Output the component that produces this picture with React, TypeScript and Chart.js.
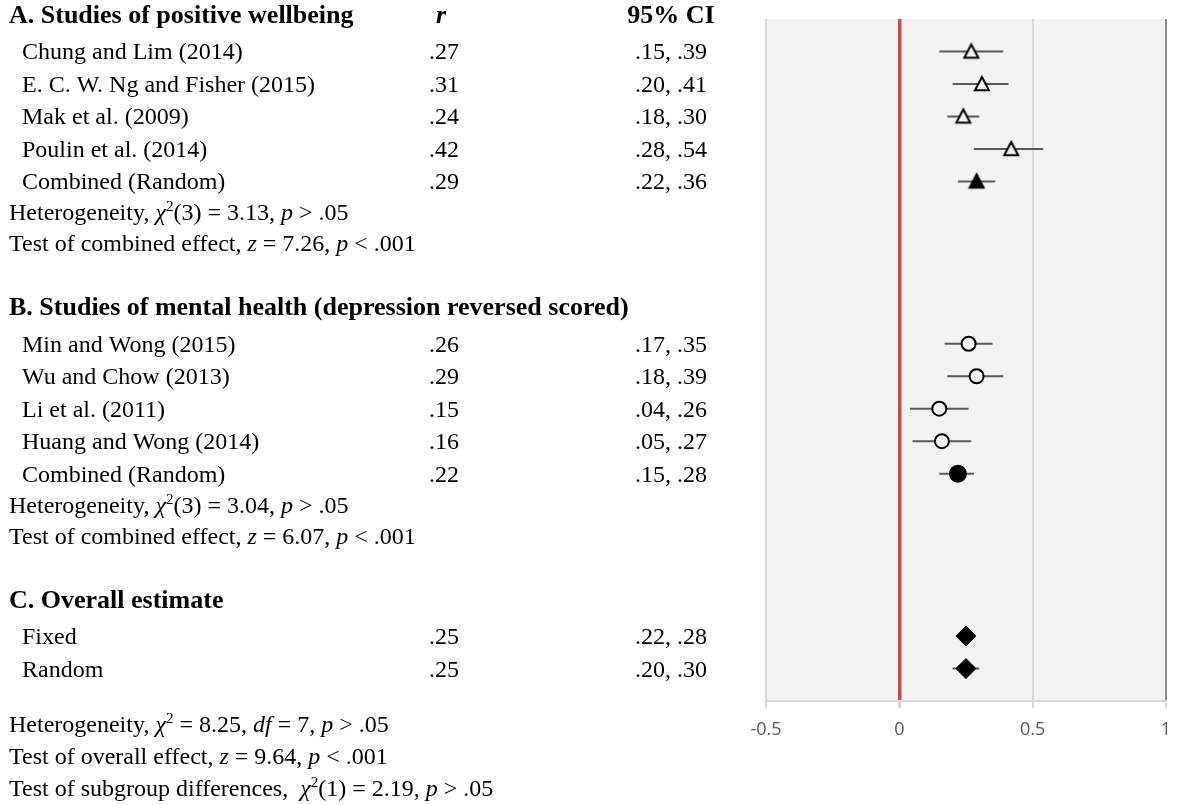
import React, { useEffect, useRef } from 'react';
import { Chart, registerables } from 'chart.js';

Chart.register(...registerables);

// ---------- data ----------
const headerA = 'A. Studies of positive wellbeing';
const studiesA = ['Chung and Lim (2014)', 'E. C. W. Ng and Fisher (2015)', 'Mak et al. (2009)', 'Poulin et al. (2014)', 'Combined (Random)'];
const rA = [0.27, 0.31, 0.24, 0.42, 0.29];
const loA = [0.15, 0.20, 0.18, 0.28, 0.22];
const hiA = [0.39, 0.41, 0.30, 0.54, 0.36];

const headerB = 'B. Studies of mental health (depression reversed scored)';
const studiesB = ['Min and Wong (2015)', 'Wu and Chow (2013)', 'Li et al. (2011)', 'Huang and Wong (2014)', 'Combined (Random)'];
const rB = [0.26, 0.29, 0.15, 0.16, 0.22];
const loB = [0.17, 0.18, 0.04, 0.05, 0.15];
const hiB = [0.35, 0.39, 0.26, 0.27, 0.28];

const headerC = 'C. Overall estimate';
const studiesC = ['Fixed', 'Random'];
const rC = [0.25, 0.25];
const loC = [0.22, 0.20];
const hiC = [0.28, 0.30];

const colHeaderR = 'r';
const colHeaderCI = '95% CI';
const xTicks = [-0.5, 0, 0.5, 1];

type Seg = [string, 'n' | 'i' | 'sup'];
const statsA: Seg[][] = [
  [['Heterogeneity, ', 'n'], ['χ', 'i'], ['2', 'sup'], ['(3) = 3.13, ', 'n'], ['p', 'i'], [' > .05', 'n']],
  [['Test of combined effect, ', 'n'], ['z', 'i'], [' = 7.26, ', 'n'], ['p', 'i'], [' < .001', 'n']],
];
const statsB: Seg[][] = [
  [['Heterogeneity, ', 'n'], ['χ', 'i'], ['2', 'sup'], ['(3) = 3.04, ', 'n'], ['p', 'i'], [' > .05', 'n']],
  [['Test of combined effect, ', 'n'], ['z', 'i'], [' = 6.07, ', 'n'], ['p', 'i'], [' < .001', 'n']],
];
const statsC: Seg[][] = [
  [['Heterogeneity, ', 'n'], ['χ', 'i'], ['2', 'sup'], [' = 8.25, ', 'n'], ['df', 'i'], [' = 7, ', 'n'], ['p', 'i'], [' > .05', 'n']],
  [['Test of overall effect, ', 'n'], ['z', 'i'], [' = 9.64, ', 'n'], ['p', 'i'], [' < .001', 'n']],
  [['Test of subgroup differences,  ', 'n'], ['χ', 'i'], ['2', 'sup'], ['(1) = 2.19, ', 'n'], ['p', 'i'], [' > .05', 'n']],
];

// ---------- layout (not data) ----------
const SEC_A = 0;
const SEC_B = 9;
const SEC_C = 18;
const SERIF = '"Liberation Serif", "Times New Roman", serif';
const F_BODY = `24px ${SERIF}`;
const F_ITAL = `italic 24px ${SERIF}`;
const F_SUP = `15px ${SERIF}`;
const F_HEAD = `bold 26px ${SERIF}`;
const F_HEAD_I = `italic bold 26px ${SERIF}`;
const COL_R = 444;
const COL_CI = 671;
const BG = '#f2f2f2';

const fmt = (v: number) => v.toFixed(2).replace(/^0/, '');

function makeTriangle(fill: string): HTMLCanvasElement {
  const c = document.createElement('canvas');
  c.width = 20;
  c.height = 20;
  const g = c.getContext('2d')!;
  g.beginPath();
  g.moveTo(10, 3);
  g.lineTo(17, 16.2);
  g.lineTo(3, 16.2);
  g.closePath();
  g.fillStyle = fill;
  g.fill();
  g.lineWidth = 2;
  g.lineJoin = 'miter';
  g.strokeStyle = '#000';
  g.stroke();
  return c;
}

function drawSegs(ctx: CanvasRenderingContext2D, segs: Seg[], x: number, y: number) {
  ctx.textAlign = 'left';
  for (const [t, s] of segs) {
    ctx.font = s === 'i' ? F_ITAL : s === 'sup' ? F_SUP : F_BODY;
    ctx.fillText(t, x, s === 'sup' ? y - 9 : y);
    x += ctx.measureText(t).width;
  }
}

export default function App() {
  const ref = useRef<HTMLCanvasElement | null>(null);

  useEffect(() => {
    if (!ref.current) return;
    const triOpen = makeTriangle(BG);
    const triFull = makeTriangle('#000');

    const rowsA = rA.map((_, i) => SEC_A + 1 + i);
    const rowsB = rB.map((_, i) => SEC_B + 1 + i);
    const rowsC = rC.map((_, i) => SEC_C + 1 + i);

    const ciSets: any[] = [];
    const addCI = (lo: number[], hi: number[], rows: number[]) => {
      lo.forEach((l, i) => {
        ciSets.push({
          type: 'scatter',
          showLine: true,
          data: [{ x: l, y: rows[i] }, { x: hi[i], y: rows[i] }],
          borderColor: '#595959',
          borderWidth: 2,
          pointRadius: 0,
          order: 2,
        });
      });
    };
    addCI(loA, hiA, rowsA);
    addCI(loB, hiB, rowsB);
    addCI(loC, hiC, rowsC);

    const bgPlugin = {
      id: 'plotBg',
      beforeDraw(chart: any) {
        const { ctx, chartArea } = chart;
        ctx.save();
        ctx.fillStyle = BG;
        ctx.fillRect(chartArea.left, chartArea.top, chartArea.right - chartArea.left, chartArea.bottom - chartArea.top);
        ctx.restore();
      },
    };

    const tablePlugin = {
      id: 'table',
      afterDraw(chart: any) {
        const ctx: CanvasRenderingContext2D = chart.ctx;
        const ys = chart.scales.y;
        const py = (v: number) => ys.getPixelForValue(v);
        ctx.save();
        ctx.fillStyle = '#000';
        ctx.textBaseline = 'alphabetic';

        const head = (text: string, row: number, withCols: boolean) => {
          const y = py(row) + 4;
          ctx.font = F_HEAD;
          ctx.textAlign = 'left';
          ctx.fillText(text, 9, y);
          if (withCols) {
            ctx.textAlign = 'center';
            ctx.font = F_HEAD_I;
            ctx.fillText(colHeaderR, COL_R - 3, y);
            ctx.font = F_HEAD;
            ctx.fillText(colHeaderCI, COL_CI, y);
          }
        };
        const rows = (names: string[], r: number[], lo: number[], hi: number[], start: number) => {
          names.forEach((n, i) => {
            const y = py(start + 1 + i) + 8;
            ctx.font = F_BODY;
            ctx.textAlign = 'left';
            ctx.fillText(n, 22, y);
            ctx.textAlign = 'center';
            ctx.fillText(fmt(r[i]), COL_R, y);
            ctx.fillText(`${fmt(lo[i])}, ${fmt(hi[i])}`, COL_CI, y);
          });
        };
        const stats = (lines: Seg[][], baseRow: number, gap: number, pitch: number) => {
          lines.forEach((segs, k) => {
            const y = py(baseRow) + gap + pitch * k + 8;
            drawSegs(ctx, segs, 9, y);
          });
        };

        head(headerA, SEC_A, true);
        rows(studiesA, rA, loA, hiA, SEC_A);
        stats(statsA, SEC_A + studiesA.length, 31, 31);

        head(headerB, SEC_B, false);
        rows(studiesB, rB, loB, hiB, SEC_B);
        stats(statsB, SEC_B + studiesB.length, 31, 31);

        head(headerC, SEC_C, false);
        rows(studiesC, rC, loC, hiC, SEC_C);
        stats(statsC, SEC_C + studiesC.length, 55, 32);

        ctx.restore();
      },
    };

    const chart = new Chart(ref.current, {
      type: 'scatter',
      data: {
        datasets: [
          {
            data: rA.map((v, i) => ({ x: v, y: rowsA[i] })),
            pointStyle: (c: any) => (c.dataIndex === rA.length - 1 ? triFull : triOpen),
            order: 0,
          } as any,
          {
            data: rB.map((v, i) => ({ x: v, y: rowsB[i] })),
            pointStyle: 'circle',
            pointRadius: (c: any) => (c.dataIndex === rB.length - 1 ? 8 : 7),
            backgroundColor: (c: any) => (c.dataIndex === rB.length - 1 ? '#000' : BG),
            borderColor: '#000',
            borderWidth: 2,
            order: 0,
          },
          {
            data: rC.map((v, i) => ({ x: v, y: rowsC[i] })),
            pointStyle: 'rectRot',
            pointRadius: 10,
            backgroundColor: '#000',
            borderColor: '#000',
            borderWidth: 1,
            order: 0,
          },
          ...ciSets,
        ],
      },
      options: {
        animation: false,
        responsive: false,
        maintainAspectRatio: false,
        events: [],
        layout: { padding: { left: 766, right: 9, top: 19, bottom: 64 } },
        plugins: { legend: { display: false }, tooltip: { enabled: false } },
        scales: {
          x: {
            type: 'linear',
            min: -0.5,
            max: 1,
            afterBuildTicks: (s: any) => {
              s.ticks = xTicks.map((v) => ({ value: v }));
            },
            afterFit: (s: any) => {
              s.height = 40;
            },
            ticks: {
              color: '#595959',
              font: { family: '"Open Sans", "Liberation Sans", sans-serif', size: 18 },
              padding: 11,
              callback: (v: any) => String(v),
            },
            grid: {
              color: (c: any) => (c.tick && c.tick.value === 0 ? '#c0504d' : c.tick && c.tick.value === 1 ? '#8c8c8c' : '#d9d9d9'),
              lineWidth: (c: any) => (c.tick && c.tick.value === 0 ? 3.5 : 2),
              tickColor: '#d9d9d9',
              tickLength: 7,
            },
            border: { color: '#d9d9d9', width: 2 },
          },
          y: {
            type: 'linear',
            reverse: true,
            min: 0,
            max: 21,
            display: false,
          },
        },
      } as any,
      plugins: [bgPlugin, tablePlugin],
    });
    return () => chart.destroy();
  }, []);

  return (
    <div style={{ position: 'absolute', left: 0, top: 0, width: 1182, height: 805 }}>
      <canvas ref={ref} width={1182} height={805} style={{ display: 'block' }} />
    </div>
  );
}
